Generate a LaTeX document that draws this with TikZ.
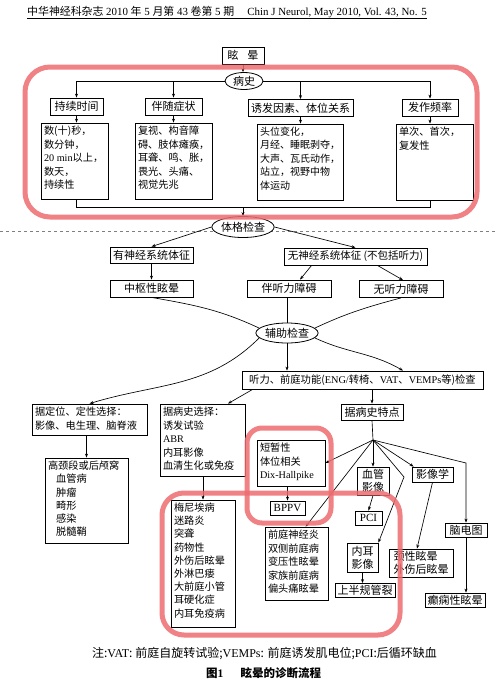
\documentclass[tikz,border=0pt]{standalone}
\usepackage{fontspec}
\setmainfont{Noto Sans CJK SC}
\newfontfamily\lat{Liberation Serif}
\usetikzlibrary{arrows.meta,calc,shapes.geometric}
\definecolor{redline}{RGB}{238,108,112}
\newcommand\tb[3]{\parbox[c][#2pt][t]{#1pt}{\raggedright #3}}
\begin{document}
\begin{tikzpicture}[x=1pt,y=1pt,
  box/.style={draw, line width=0.8pt, fill=white, inner sep=0pt, font=\fontsize{11}{13}\selectfont},
  cbox/.style={draw, line width=0.8pt, fill=white, inner sep=3pt, font=\fontsize{10.2}{13.5}\selectfont},
  oval/.style={draw, ellipse, line width=0.8pt, fill=white, inner sep=0pt, font=\fontsize{11}{13}\selectfont},
  arr/.style={-{Stealth[length=4pt,width=3pt]}, line width=0.65pt},
  ln/.style={line width=0.65pt},
  redbox/.style={draw=redline, line width=5pt, opacity=0.85}
]
\fill[white] (0,0) rectangle (496,-694);
\useasboundingbox (0,0) rectangle (496,-694);

% header
\node[font=\fontsize{10.9}{12}\selectfont, anchor=base west, inner sep=0pt] (hd) at (27,-15)
  {中华神经科杂志{\lat\ 2010 }年{\lat\ 5 }月第{\lat\ 43 }卷第{\lat\ 5 }期\hspace{1.2em}{\lat Chin J Neurol, May 2010, Vol. 43, No. 5}};
\draw[line width=0.6pt] ($(hd.base west)+(0,-3.5)$) -- ($(hd.base east)+(0,-3.5)$);

% top part
\node[box, minimum width=42pt, minimum height=17pt] (xy) at (243,-55.5) {眩\hspace{0.8em}晕};
\node[oval, minimum width=38pt, minimum height=17pt] (bs) at (244,-81) {病史};
\node[box, minimum width=53pt, minimum height=17pt] (h1) at (76.5,-106.5) {持续时间};
\node[box, minimum width=57pt, minimum height=17pt] (h2) at (173.5,-106.5) {伴随症状};
\node[box, minimum width=105pt, minimum height=17pt] (h3) at (300.5,-108) {诱发因素、体位关系};
\node[box, minimum width=56pt, minimum height=17pt] (h4) at (430,-107.5) {发作频率};

\node[cbox] (c1) at (74.5,-161) {\tb{61}{70}{数(十)秒，\\数分钟，\\{\lat 20 min}以上，\\数天，\\持续性}};
\node[cbox] (c2) at (173.5,-161) {\tb{71}{70}{复视、构音障\\碍、肢体瘫痪，\\耳聋、鸣、胀，\\畏光、头痛、\\视觉先兆}};
\node[cbox, font=\fontsize{10}{13.5}\selectfont] (c3) at (300,-162) {\tb{80}{70}{头位变化，\\月经、睡眠剥夺，\\大声、瓦氏动作，\\站立，视野中物\\体运动}};
\node[cbox] (c4) at (434.5,-162) {\tb{71}{70}{单次、首次，\\复发性}};

\draw[arr] (xy.south) -- (xy.south |- bs.north);
\draw[ln] (bs.west) -- (h1.north |- bs.west);
\draw[ln] (bs.east) -- (h4.north |- bs.east);
\draw[arr] (h1.north |- bs.west) -- (h1.north);
\draw[arr] (h2.north |- bs.west) -- (h2.north);
\draw[arr] (h3.north |- bs.east) -- (h3.north);
\draw[arr] (h4.north |- bs.east) -- (h4.north);
\draw[arr] (h1.south) -- (h1.south |- c1.north);
\draw[arr] (h2.south) -- (h2.south |- c2.north);
\draw[arr] (h3.south) -- (h3.south |- c3.north);
\draw[arr] (h4.south) -- (h4.south |- c4.north);

\coordinate (j1) at (243,-207);
\draw[ln] (h1.south |- c1.south) -- (h1.south |- j1) -- (h4.south |- j1) -- (h4.south |- c4.south);

% examination
\draw[gray, dashed, line width=0.5pt] (0,-231) -- (496,-231);
\node[oval, minimum width=60pt, minimum height=21pt] (tg) at (243,-227) {体格检查};
\draw[arr] (j1) -- (tg.north);

\node[box, minimum width=83pt, minimum height=16pt] (ys) at (151.5,-255) {有神经系统体征};
\node[box, minimum width=83pt, minimum height=17pt] (zs) at (151.5,-288.5) {中枢性眩晕};
\node[box, font=\fontsize{10.5}{13}\selectfont, minimum width=143pt, minimum height=17pt] (ws) at (355.5,-256.5) {无神经系统体征 (不包括听力)};
\node[box, minimum width=84pt, minimum height=17pt] (bt) at (289,-288.5) {伴听力障碍};
\node[box, minimum width=84pt, minimum height=17pt] (wt) at (401,-289) {无听力障碍};

\draw[arr] (tg.west) -- (ys.north);
\draw[arr] (tg.east) -- (ws.north);
\draw[arr] (ys.south) -- (zs.north);
\draw[arr] ($(ws.south west)+(28,0)$) -- ($(bt.north)+(11,0)$);
\draw[arr] ($(ws.south east)+(-50,0)$) -- ($(wt.north)+(2,0)$);

\node[oval, minimum width=61pt, minimum height=20pt] (fz) at (287,-333) {辅助检查};
\draw[ln] (zs.south) to[out=-10,in=155] (fz.170);
\draw[ln] (fz.north |- bt.south) -- (fz.north);
\draw[ln] (wt.south) to[out=195,in=25] (fz.10);

\node[box, font=\fontsize{10.3}{13}\selectfont, minimum width=241pt, minimum height=18pt] (tl) at (362.5,-380) {听力、前庭功能({\lat ENG/}转椅、{\lat VAT}、{\lat VEMPs}等)检查};
\node[cbox, font=\fontsize{10.2}{14}\selectfont] (jd) at (89.5,-419.5) {\tb{109}{25}{据定位、定性选择：\\影像、电生理、脑脊液}};
\node[cbox, font=\fontsize{10.2}{13.2}\selectfont] (gj) at (86.5,-500.5) {\tb{77}{79}{高颈段或后颅窝\\\hspace*{0.8em}血管病\\\hspace*{0.8em}肿瘤\\\hspace*{0.8em}畸形\\\hspace*{0.8em}感染\\\hspace*{0.8em}脱髓鞘}};
\node[cbox] (jb) at (202.5,-440) {\tb{79}{66}{据病史选择：\\诱发试验\\{\lat ABR}\\内耳影像\\血清生化或免疫}};
\node[cbox, font=\fontsize{10.2}{13.2}\selectfont] (mn) at (203,-563.5) {\tb{58}{121}{梅尼埃病\\迷路炎\\突聋\\药物性\\外伤后眩晕\\外淋巴瘘\\大前庭小管\\耳硬化症\\内耳免疫病}};

\draw[arr] (fz.190) to[out=225,in=17] (jd.north);
\draw[arr] (fz.south) -- (fz.south |- tl.north);
\draw[arr] (fz.-10) to[out=-25,in=150] ($(tl.north)+(40.5,0)$);
\draw[arr] ($(tl.south west)+(11,0)$) -- (jb.55);
\draw[arr] (gj.north |- jd.south) -- (gj.north);
\draw[arr] (mn.north |- jb.south) -- (mn.north);

% history features
\node[box, minimum width=62pt, minimum height=16pt] (jt) at (372,-412) {据病史特点};
\coordinate (hub) at (373,-440);
\node[cbox] (dz) at (291,-463) {\tb{62}{40}{短暂性\\体位相关\\{\lat Dix-Hallpike}}};
\node[box, minimum width=35pt, minimum height=14pt] (bp) at (287.5,-508) {\lat BPPV};
\node[cbox] (qt) at (296.5,-563.5) {\tb{57}{67}{前庭神经炎\\双侧前庭病\\变压性眩晕\\家族前庭病\\偏头痛眩晕}};
\node[box, align=center, minimum width=32pt, minimum height=28pt] (xg) at (373,-481) {血管\\影像};
\node[box, minimum width=27pt, minimum height=14pt] (pc) at (368.5,-518) {\lat PCI};
\node[box, align=center, minimum width=31pt, minimum height=29pt] (ne) at (362.5,-557.5) {内耳\\影像};
\node[box, minimum width=60pt, minimum height=14pt] (sb) at (365,-590.5) {上半规管裂};
\node[box, minimum width=41pt, minimum height=15pt] (yx) at (432.5,-474.5) {影像学};
\node[box, align=left, minimum width=64pt, minimum height=28pt] (jx) at (421,-563) {颈性眩晕\\外伤后眩晕};
\node[box, minimum width=42pt, minimum height=14pt] (nd) at (466,-530) {脑电图};
\node[box, minimum width=60pt, minimum height=14pt] (dx) at (455,-600) {癫痫性眩晕};

\coordinate (bend1) at (404,-477);
\coordinate (bend2) at (466,-463);
\draw[arr] (jt.north |- tl.south) -- (jt.north);
\draw[ln] (jt.south) -- (hub);
\draw[arr] (hub) -- (dz.east);
\draw[arr] (hub) -- (qt.76);
\draw[arr] (hub) -- (xg.north);
\draw[arr] (hub) -- (bend1) -- (ne.north east);
\draw[arr] (hub) -- ($(yx.north west)+(2,0)$);
\draw[arr] (hub) -- (bend2) -- (nd.north);
\draw[arr] (yx.south) -- ($(jx.north)+(-4,0)$);
\draw[arr] (xg.south) -- (pc.north);
\draw[arr] (ne.south) -- (ne.south |- sb.north);
\draw[arr] (nd.south) -- (nd.south |- dx.north);
\draw[arr] (bp.north |- dz.south) -- (bp.north);

% red highlights
\draw[redbox, rounded corners=25pt] (25,-67) rectangle (477,-217);
\draw[redbox, rounded corners=15pt] (247,-428) rectangle (331,-523);
\draw[redbox, rounded corners=22pt] (162,-493) rectangle (400,-635);

% footer
\node[font=\fontsize{12}{13}\selectfont] (nt) at (264.5,-654) {注:{\lat VAT}: 前庭自旋转试验;{\lat VEMPs}: 前庭诱发肌电位;{\lat PCI}:后循环缺血};
\node[font=\bfseries\fontsize{11.5}{13}\selectfont] (tt) at (263.5,-673) {图{\lat\bfseries 1}\hspace{1.5em}眩晕的诊断流程};
\end{tikzpicture}
\end{document}
